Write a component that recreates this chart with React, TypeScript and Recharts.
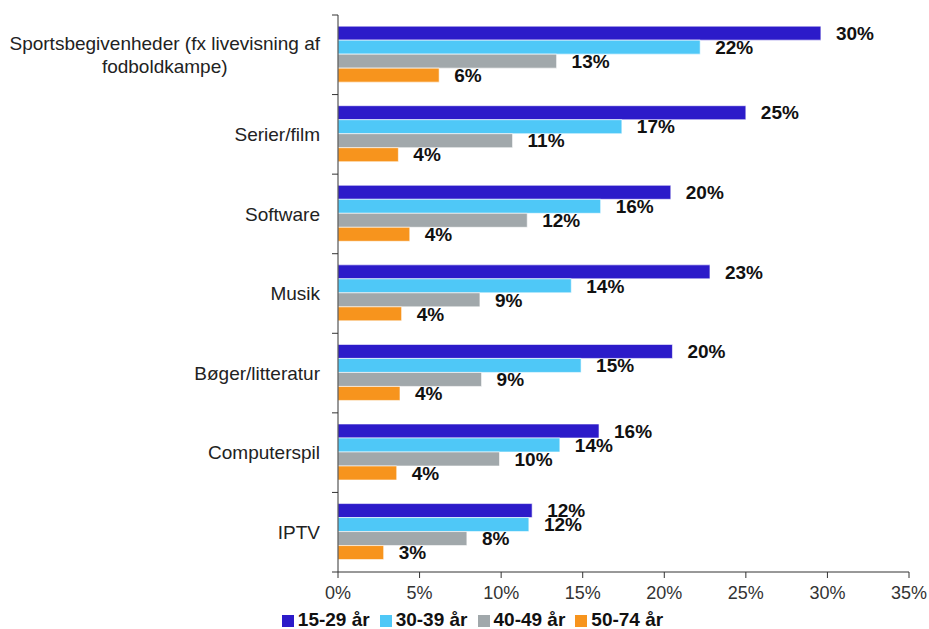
import React from "react";
import {
  BarChart,
  Bar,
  XAxis,
  YAxis,
  Legend,
  LabelList,
} from "recharts";

const categories = [
  "Sportsbegivenheder (fx livevisning af\nfodboldkampe)",
  "Serier/film",
  "Software",
  "Musik",
  "Bøger/litteratur",
  "Computerspil",
  "IPTV",
];

// bar lengths (percent)
const age15 = [29.6, 25.0, 20.4, 22.8, 20.5, 16.0, 11.9];
const age30 = [22.2, 17.4, 16.1, 14.3, 14.9, 13.6, 11.7];
const age40 = [13.4, 10.7, 11.6, 8.7, 8.8, 9.9, 7.9];
const age50 = [6.2, 3.7, 4.4, 3.9, 3.8, 3.6, 2.8];

// printed labels
const label15 = [30, 25, 20, 23, 20, 16, 12];
const label30 = [22, 17, 16, 14, 15, 14, 12];
const label40 = [13, 11, 12, 9, 9, 10, 8];
const label50 = [6, 4, 4, 4, 4, 4, 3];

const xTicks = [0, 5, 10, 15, 20, 25, 30, 35];

const data = categories.map((name, i) => ({
  name,
  a15: age15[i],
  a30: age30[i],
  a40: age40[i],
  a50: age50[i],
  l15: `${label15[i]}%`,
  l30: `${label30[i]}%`,
  l40: `${label40[i]}%`,
  l50: `${label50[i]}%`,
}));

const COLORS = {
  a15: "#2C1BC9",
  a30: "#4FC8F7",
  a40: "#A1A8AB",
  a50: "#F7941D",
};

const FONT = "'Liberation Sans', Arial, sans-serif";
const W = 929;
const H = 629;
const MARGIN = { top: 15, right: 20, bottom: 5, left: 0 };
const Y_AXIS_W = 338;
const BAND = (H - 15 - 57) / categories.length;

function measure(text: string, font: string) {
  const ctx = document.createElement("canvas").getContext("2d");
  if (!ctx) return text.length * 9;
  ctx.font = font;
  return ctx.measureText(text).width;
}

function CategoryTick(props: any) {
  const { y, payload, index } = props;
  const lines: string[] = String(payload.value).split("\n");
  const right = 320;
  const axisX = Y_AXIS_W;
  const lh = 23;
  const widths = lines.map((l) => measure(l, `19px ${FONT}`));
  const maxW = Math.max(...widths);
  const startY = y - ((lines.length - 1) * lh) / 2;
  return (
    <g>
      <line x1={axisX - 6} x2={axisX} y1={y - BAND / 2} y2={y - BAND / 2} stroke="#333" />
      {index === categories.length - 1 && (
        <line x1={axisX - 6} x2={axisX} y1={y + BAND / 2} y2={y + BAND / 2} stroke="#333" />
      )}
      {lines.map((l, i) => (
        <text
          key={i}
          x={lines.length > 1 ? right - maxW / 2 : right}
          y={startY + i * lh}
          dy="0.35em"
          textAnchor={lines.length > 1 ? "middle" : "end"}
          fontSize={19}
          fontFamily={FONT}
          fill="#222"
        >
          {l}
        </text>
      ))}
    </g>
  );
}

const legendNames: Record<string, string> = {
  a15: "15-29 år",
  a30: "30-39 år",
  a40: "40-49 år",
  a50: "50-74 år",
};

export default function App() {
  const series = ["a15", "a30", "a40", "a50"] as const;
  const labelKeys = { a15: "l15", a30: "l30", a40: "l40", a50: "l50" };
  return (
    <div style={{ position: "absolute", left: 0, top: 0, background: "#fff" }}>
      <BarChart
        width={W}
        height={H}
        data={data}
        layout="vertical"
        margin={MARGIN}
        barCategoryGap="14%"
        barGap={0}
      >
        <XAxis
          type="number"
          domain={[0, 35]}
          ticks={xTicks}
          tickFormatter={(v: number) => `${v}%`}
          axisLine={{ stroke: "#333" }}
          tickLine={{ stroke: "#333" }}
          tickSize={6}
          tickMargin={8}
          height={30}
          tick={{ fontSize: 18, fontFamily: FONT, fill: "#333" }}
        />
        <YAxis
          type="category"
          dataKey="name"
          width={Y_AXIS_W}
          axisLine={{ stroke: "#333" }}
          tickLine={false}
          interval={0}
          tick={<CategoryTick />}
        />
        <Legend
          verticalAlign="bottom"
          iconType="square"
          iconSize={12}
          wrapperStyle={{ fontFamily: FONT, fontWeight: 700, fontSize: 19, bottom: -2, left: 23 }}
          formatter={(value: string) => (
            <span style={{ color: "#111" }}>{legendNames[value] ?? value}</span>
          )}
        />
        {series.map((k) => (
          <Bar
            key={k}
            dataKey={k}
            name={k}
            fill={COLORS[k]}
            stroke="#fff"
            strokeWidth={0.6}
            isAnimationActive={false}
          >
            <LabelList
              dataKey={labelKeys[k]}
              position="right"
              offset={15}
              style={{ fontFamily: FONT, fontWeight: 700, fontSize: 19, fill: "#111" }}
            />
          </Bar>
        ))}
      </BarChart>
    </div>
  );
}
